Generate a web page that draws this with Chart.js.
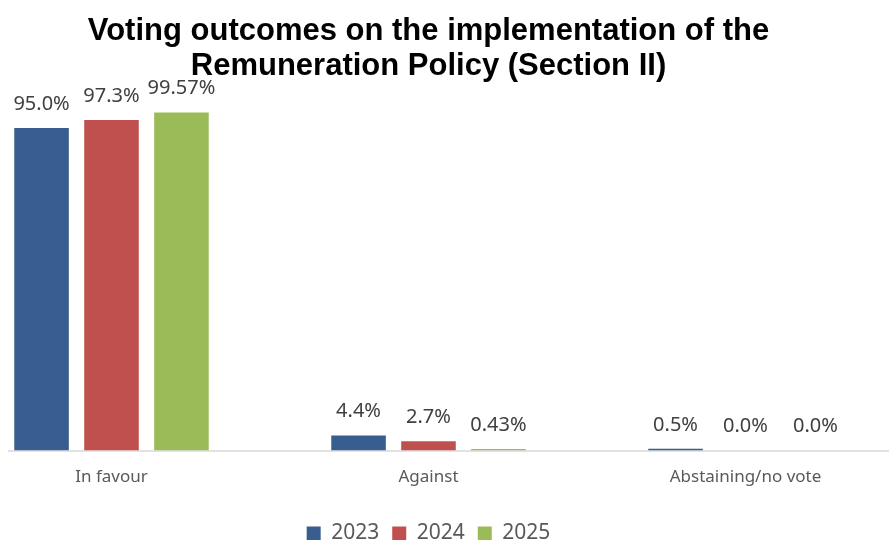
<!DOCTYPE html>
<html>
<head>
<meta charset="utf-8">
<script src="https://cdn.jsdelivr.net/npm/chart.js@4.4.1/dist/chart.umd.min.js"></script>
<style>
  html, body { margin: 0; padding: 0; background: #fff; }
  #wrap { position: relative; width: 889px; height: 540px; overflow: hidden; }
  #box { position: absolute; left: -47px; top: 0; width: 951px; height: 554px; }
</style>
</head>
<body>
<div id="wrap"><div id="box"><canvas id="votesChart"></canvas></div></div>
<script>
// --- Chart data ---
const categories = ["In favour", "Against", "Abstaining/no vote"];
const years = ["2023", "2024", "2025"];
const votes2023 = [95.0, 4.4, 0.5];
const votes2024 = [97.3, 2.7, 0.0];
const votes2025 = [99.57, 0.43, 0.0];
const labels2023 = ["95.0%", "4.4%", "0.5%"];
const labels2024 = ["97.3%", "2.7%", "0.0%"];
const labels2025 = ["99.57%", "0.43%", "0.0%"];
const colors = ["#375E8E", "#C0504D", "#9BBB59"];

const FONT = "'Noto Sans', sans-serif";

// draws the value text above each bar
const valueLabels = {
  id: "valueLabels",
  afterDatasetsDraw(chart) {
    const ctx = chart.ctx;
    const texts = [labels2023, labels2024, labels2025];
    ctx.save();
    ctx.font = "20px " + FONT;
    ctx.fillStyle = "#404040";
    ctx.textAlign = "center";
    ctx.textBaseline = "middle";
    chart.data.datasets.forEach((ds, i) => {
      chart.getDatasetMeta(i).data.forEach((bar, j) => {
        ctx.fillText(texts[i][j], bar.x, bar.y - 24);
      });
    });
    ctx.restore();
  }
};

// grey baseline under the bars
const baseLine = {
  id: "baseLine",
  beforeDatasetsDraw(chart) {
    const ctx = chart.ctx;
    const y = chart.scales.y.getPixelForValue(0) + 0.5;
    ctx.save();
    ctx.strokeStyle = "#D9D9D9";
    ctx.lineWidth = 1.5;
    ctx.beginPath();
    ctx.moveTo(55, y);
    ctx.lineTo(chart.width, y);
    ctx.stroke();
    ctx.restore();
  }
};

document.addEventListener("DOMContentLoaded", () => {
  const ctx = document.getElementById("votesChart");
  new Chart(ctx, {
    type: "bar",
    data: {
      labels: categories,
      datasets: [
        { label: years[0], data: votes2023, backgroundColor: colors[0] },
        { label: years[1], data: votes2024, backgroundColor: colors[1] },
        { label: years[2], data: votes2025, backgroundColor: colors[2] },
      ],
    },
    options: {
      responsive: true,
      maintainAspectRatio: false,
      animation: false,
      datasets: {
        bar: {
          categoryPercentage: 0.662,
          barPercentage: 0.78,
          borderWidth: 0,
        },
      },
      layout: { padding: 0 },
      plugins: {
        title: {
          display: true,
          text: ["Voting outcomes on the implementation of the", "Remuneration Policy (Section II)"],
          font: { family: "'Liberation Sans', Arial, sans-serif", size: 31, weight: "bold", lineHeight: 1.16 },
          color: "#000000",
          padding: { top: 13, bottom: 26 },
        },
        legend: {
          position: "bottom",
          labels: {
            font: { family: FONT, size: 21 },
            color: "#595959",
            boxWidth: 14,
            boxHeight: 14,
            padding: 13,
          },
        },
        tooltip: { enabled: false },
      },
      scales: {
        x: {
          grid: { display: false },
          border: { display: false },
          ticks: { font: { family: FONT, size: 17 }, color: "#595959", padding: 8 },
          afterFit(scale) {
            scale.height = 59.5;
          },
        },
        y: {
          display: false,
          min: 0,
          max: 100,
        },
      },
    },
    plugins: [baseLine, valueLabels],
  });
});
</script>
</body>
</html>
